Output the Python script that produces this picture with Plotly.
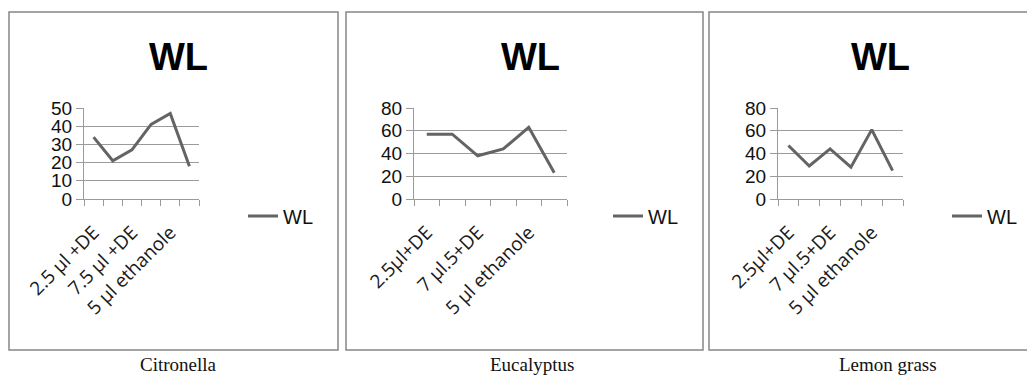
import plotly.graph_objects as go

W, H = 1027, 379

# ---- data ----
panel_names = ["Citronella", "Eucalyptus", "Lemon grass"]
citronella_labels = ["2.5 µl +DE", "7.5 µl +DE", "5 µl ethanole"]
eucalyptus_labels = ["2.5µl+DE", "7 µl.5+DE", "5 µl ethanole"]
lemongrass_labels = ["2.5µl+DE", "7 µl.5+DE", "5 µl ethanole"]
citronella_wl = [34, 21, 27, 41, 47, 18]
eucalyptus_wl = [57, 57, 38, 44, 63, 23]
lemongrass_wl = [47, 29, 44, 28, 61, 25]
y_max = [50, 80, 80]
y_step = [10, 20, 20]

series = [citronella_wl, eucalyptus_wl, lemongrass_wl]
labels = [citronella_labels, eucalyptus_labels, lemongrass_labels]

# ---- layout geometry (pixels) ----
plot_x = [(84, 199), (414, 567), (778, 903)]
plot_y = (108, 199)
borders = [(9, 338), (346, 703), (709, 1030)]
title_cx = [178, 530, 880]
caption_cx = [178, 532, 888]
legend_x = [243, 608, 947]

def px(x):
    return x / W

def py(y):
    return 1 - y / H

GRAY_LINE = "rgb(100,100,100)"
GRID = "rgb(155,155,155)"

fig = go.Figure()
shapes = []
annotations = []

for i in range(3):
    n = len(series[i])
    xs = [k + 0.5 for k in range(n)]
    ax = "" if i == 0 else str(i + 1)
    leg = "legend" if i == 0 else f"legend{i+1}"
    fig.add_trace(go.Scatter(
        x=xs, y=series[i], mode="lines", name="WL",
        line=dict(color=GRAY_LINE, width=3),
        xaxis="x" + ax, yaxis="y" + ax, legend=leg, showlegend=True,
    ))
    xa = dict(
        domain=[px(plot_x[i][0]), px(plot_x[i][1])],
        range=[0, n], anchor="y" + ax, automargin=False,
        tickvals=[0.5, 2.5, 4.5], ticktext=labels[i],
        tickangle=-45, ticks="outside", ticklen=14, tickcolor="rgba(0,0,0,0)",
        tickfont=dict(family="Open Sans", size=19, color="#1a1a1a"),
        showgrid=False, zeroline=False, showline=True, linecolor=GRID, linewidth=1,
        minor=dict(tickvals=list(range(n + 1)), ticks="outside", ticklen=6,
                   tickcolor=GRID, tickwidth=1, showgrid=False),
        fixedrange=True,
    )
    ya = dict(
        domain=[py(plot_y[1]), py(plot_y[0])],
        range=[0, y_max[i]], dtick=y_step[i], tick0=0, anchor="x" + ax,
        automargin=False,
        ticks="outside", ticklen=7, tickcolor=GRID,
        tickfont=dict(family="Arial", size=19, color="#111"),
        showgrid=True, gridcolor=GRID, gridwidth=1,
        zeroline=False, showline=True, linecolor=GRID, linewidth=1,
        fixedrange=True,
    )
    fig.layout["xaxis" + ax] = xa
    fig.layout["yaxis" + ax] = ya
    fig.layout[leg] = dict(
        x=px(legend_x[i]), y=py(216), xanchor="left", yanchor="middle",
        bgcolor="rgba(0,0,0,0)", font=dict(family="Arial", size=20, color="#111"),
        itemwidth=30, borderwidth=0,
    )
    shapes.append(dict(type="rect", xref="paper", yref="paper",
                       x0=px(borders[i][0]), x1=px(borders[i][1]),
                       y0=py(350), y1=py(12),
                       line=dict(color="rgb(135,135,135)", width=1.5)))
    annotations.append(dict(text="<b>WL</b>", x=px(title_cx[i]), y=py(57),
                            xref="paper", yref="paper", showarrow=False,
                            xanchor="center", yanchor="middle",
                            font=dict(family="Arial", size=38, color="#000")))
    annotations.append(dict(text=panel_names[i], x=px(caption_cx[i]), y=py(364),
                            xref="paper", yref="paper", showarrow=False,
                            xanchor="center", yanchor="middle",
                            font=dict(family="Liberation Serif", size=19, color="#111")))

fig.update_layout(
    width=W, height=H, margin=dict(l=0, r=0, t=0, b=0, autoexpand=False),
    paper_bgcolor="white", plot_bgcolor="white",
    shapes=shapes, annotations=annotations,
)

fig.write_html("out.html")
